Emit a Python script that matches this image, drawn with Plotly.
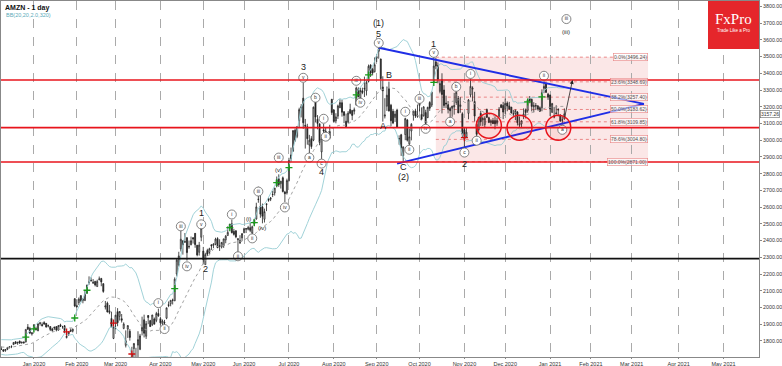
import pandas as pd
import plotly.graph_objects as go

# ---------------- data ----------------
holidays = ["2019-12-25", "2020-01-01", "2020-01-20", "2020-02-17", "2020-04-10", "2020-05-25",
            "2020-07-03", "2020-09-07", "2020-11-26", "2020-12-25", "2021-01-01"]

# Dec19 | Jan20 | Feb20 | Mar20 | Apr20 | May20 | Jun20 | Jul20 | Aug20 | Sep20 | Oct20 | Nov20 | Dec20 | Jan21
open_ = [1751,1747,1742,1750,1765,1767,1778,1795,1788,1799,1788,1794,1793,1883,1874,1842,
         1875,1865,1860,1905,1898,1910,1905,1891,1886,1872,1882,1886,1865,1896,1885,1891,1820,1841,1864,1858,2052,
         2011,2029,2071,2041,2041,2085,2151,2163,2145,2156,2125,2168,2173,2142,2003,2026,1970,1934,1815,
         1906,1975,1947,1933,1875,1774,1871,1858,1722,1755,1642,1775,1750,1860,1926,1828,1952,1921,1898,1931,1923,1964,
         1933,1902,1911,1936,2017,2022,2044,2040,2200,2254,2350,2399,2390,2417,2365,2375,2417,2443,2372,2330,2420,
         2337,2256,2340,2329,2375,2372,2378,2412,2367,2361,2369,2404,2430,2478,2500,2455,2458,2405,2384,2416,
         2448,2467,2468,2477,2445,2500,2529,2645,2604,2601,2527,2620,2648,2647,2677,2685,2726,2769,2740,2775,2690,2685,
         2758,2912,2935,3059,3023,3116,3192,3251,3089,3080,2971,3009,3000,3232,3125,3098,2930,3062,3054,3031,3014,3244,
         3181,3115,3144,3194,3224,3170,3113,3108,3183,3178,3173,3212,3303,3252,3295,3310,3295,3351,3450,3423,3409,
         3490,3547,3485,3318,3144,3203,3307,3209,3173,3136,3180,3009,3032,2907,3034,3120,2978,3055,3149,3175,3141,
         3208,3154,3146,3165,3135,3225,3210,3350,3468,3447,3292,3363,3300,3222,3213,3190,3191,3199,3225,3249,3201,3158,
         3062,3019,3160,3271,3305,3231,3095,3062,3160,3122,3093,3183,3134,3105,3117,3117,3101,3142,3211,3208,
         3189,3222,3205,3198,3156,3159,3168,3089,3097,3143,3181,3176,3250,3244,3200,3203,3205,3194,3194,3310,3341,3275,
         3270,3166,3146,3157,3180,3148,3120,3128]
high = [1767,1751,1751,1764,1769,1770,1792,1798,1792,1802,1793,1796,1869,1901,1884,1853,
        1898,1886,1904,1914,1911,1918,1907,1898,1887,1879,1886,1887,1894,1903,1890,1895,1841,1858,1875,1873,2056,
        2049,2060,2071,2056,2099,2136,2186,2180,2170,2159,2166,2185,2177,2145,2039,2035,2015,1975,1890,
        1955,1996,1978,1961,1911,1863,1894,1871,1765,1786,1759,1858,1842,1945,1957,1919,1955,1926,1956,1940,1974,1993,
        1945,1928,1926,1999,2036,2044,2053,2180,2292,2333,2461,2400,2445,2420,2400,2424,2420,2445,2374,2392,2475,
        2362,2327,2351,2357,2376,2382,2417,2420,2408,2391,2411,2433,2485,2500,2525,2470,2462,2414,2432,2442,
        2477,2474,2488,2508,2489,2530,2626,2722,2671,2621,2591,2620,2655,2660,2697,2715,2783,2796,2754,2783,2697,2770,
        2895,2956,3060,3070,3084,3194,3215,3344,3127,3098,3032,3024,3201,3241,3150,3098,3032,3098,3077,3039,3092,3247,
        3184,3161,3213,3245,3241,3173,3159,3174,3218,3178,3195,3320,3316,3313,3314,3380,3357,3452,3453,3433,3495,
        3514,3552,3488,3382,3251,3321,3350,3217,3187,3175,3188,3029,3038,2962,3134,3127,3069,3102,3175,3188,3213,
        3224,3196,3203,3182,3200,3233,3289,3496,3492,3465,3356,3400,3329,3266,3234,3199,3205,3283,3292,3264,3257,3167,
        3079,3075,3245,3367,3322,3289,3114,3139,3176,3142,3143,3189,3140,3125,3133,3140,3134,3198,3216,3229,
        3249,3232,3229,3198,3181,3184,3174,3142,3119,3190,3189,3247,3264,3249,3227,3222,3210,3202,3304,3351,3342,3283,
        3272,3223,3198,3209,3191,3156,3142,3190]
low = [1746,1735,1735,1745,1755,1757,1777,1782,1777,1782,1784,1784,1793,1866,1841,1832,
       1864,1865,1860,1892,1886,1896,1880,1881,1859,1855,1866,1857,1860,1883,1873,1847,1815,1830,1855,1851,2002,
       2000,2015,2032,2025,2041,2085,2136,2155,2142,2126,2124,2161,2127,2088,1988,1971,1960,1883,1811,
       1870,1888,1922,1910,1870,1761,1818,1802,1675,1681,1626,1689,1745,1833,1821,1812,1900,1889,1889,1900,1912,1944,
       1893,1890,1889,1930,2002,2007,2018,2038,2186,2245,2335,2316,2386,2280,2351,2372,2382,2357,2306,2310,2396,
       2258,2256,2307,2320,2344,2355,2372,2355,2338,2353,2356,2384,2429,2467,2443,2430,2414,2330,2383,2398,
       2443,2445,2461,2450,2437,2487,2525,2626,2536,2503,2508,2576,2632,2636,2660,2669,2718,2721,2711,2688,2630,2675,
       2754,2871,2930,2990,3012,3074,3136,3068,2950,2973,2918,2948,2994,3106,3065,2970,2888,3016,2996,2997,3005,3151,
       3104,3101,3127,3192,3141,3102,3073,3101,3155,3120,3154,3206,3256,3238,3275,3258,3267,3345,3378,3387,3405,
       3467,3487,3303,3111,3130,3175,3171,3084,3096,3109,3074,2973,2906,2871,3000,2992,2965,2999,3117,3133,3134,
       3172,3123,3141,3091,3132,3175,3198,3340,3424,3340,3280,3160,3193,3192,3160,3122,3140,3153,3211,3162,3164,3019,
       2951,3013,3125,3256,3232,3112,3019,3050,3086,3085,3073,3135,3105,3086,3098,3065,3086,3140,3191,3126,
       3157,3173,3181,3159,3142,3120,3088,3076,3073,3126,3130,3164,3221,3172,3166,3180,3184,3169,3173,3281,3282,3241,
       3144,3165,3131,3155,3142,3110,3086,3122]
close = [1750,1739,1749,1760,1761,1769,1791,1784,1792,1787,1793,1789,1869,1870,1847,1848,
         1898,1875,1903,1907,1892,1901,1883,1891,1869,1862,1878,1865,1892,1887,1885,1862,1828,1853,1858,1871,2009,
         2004,2050,2040,2050,2079,2134,2151,2160,2150,2135,2156,2170,2153,2096,2009,1973,1980,1884,1884,
         1954,1909,1976,1924,1901,1801,1892,1821,1677,1785,1689,1808,1830,1881,1846,1903,1940,1886,1955,1900,1964,1950,
         1908,1919,1907,1998,2012,2043,2043,2169,2283,2308,2408,2375,2394,2328,2363,2399,2410,2376,2314,2373,2474,
         2286,2316,2318,2351,2368,2380,2409,2357,2368,2389,2410,2426,2449,2498,2447,2437,2422,2410,2401,2442,
         2471,2472,2478,2461,2483,2524,2601,2647,2558,2545,2573,2615,2641,2654,2675,2714,2764,2734,2755,2693,2680,2759,
         2879,2890,3057,3000,3081,3183,3200,3104,3084,3009,3000,2962,3197,3138,3100,2987,3009,3055,3000,3034,3052,3165,
         3112,3139,3205,3225,3167,3148,3081,3162,3161,3148,3182,3312,3260,3297,3285,3307,3346,3442,3400,3402,3451,
         3499,3531,3368,3295,3150,3269,3175,3116,3103,3156,3078,3009,2955,2960,3129,3000,3020,3095,3174,3145,3149,
         3221,3125,3199,3100,3196,3191,3287,3443,3444,3364,3339,3273,3207,3217,3185,3176,3204,3207,3286,3163,3211,3036,
         3004,3048,3241,3322,3311,3144,3035,3137,3110,3129,3131,3136,3105,3117,3099,3098,3118,3185,3195,3168,
         3220,3204,3187,3163,3158,3177,3104,3101,3116,3157,3165,3241,3236,3202,3206,3207,3185,3173,3284,3322,3286,3257,
         3187,3219,3138,3162,3183,3114,3121,3157.26]
# closes before the first candle (feed the Bollinger bands only)
warmup_close = [1772,1778,1753,1755,1739,1753,1753,1746,1735,1746,1774,1797,1819,1801,1782,1770,1761,1740,1752]

month_labels = ["Jan 2020", "Feb 2020", "Mar 2020", "Apr 2020", "May 2020", "Jun 2020", "Jul 2020",
                "Aug 2020", "Sep 2020", "Oct 2020", "Nov 2020", "Dec 2020", "Jan 2021", "Feb 2021",
                "Mar 2021", "Apr 2021", "May 2021"]
y_ticks = list(range(1800, 3801, 100))

hlines_red = [3360, 3075, 2870]
hline_black = [2292]

fib_pct = ["0.0%", "23.6%", "38.2%", "50.0%", "61.8%", "78.6%", "100.0%"]
fib_val = [3496.24, 3348.69, 3257.40, 3183.62, 3109.85, 3004.80, 2871.00]
fib_span = ["2020-10-13", "2021-03-11"]

tri_upper_dates = ["2020-09-02", "2021-03-09"]
tri_upper_vals = [3552, 3217]
tri_lower_dates = ["2020-09-16", "2021-03-09"]
tri_lower_vals = [2860, 3217]

circle_dates = ["2020-11-18", "2020-12-10", "2021-01-08"]
circle_vals = [3087, 3075, 3075]

arrow_from = ("2021-01-13", 3128)
arrow_to = ("2021-01-19", 3360)

big_text = ["(1)", "5", "3", "4", "1", "2", "B", "A", "C", "(2)", "1", "2"]
big_dates = ["2020-09-02", "2020-09-02", "2020-07-13", "2020-07-24", "2020-04-30", "2020-05-04",
             "2020-09-10", "2020-09-04", "2020-09-21", "2020-09-21", "2020-10-12", "2020-11-02"]
big_vals = [3700, 3635, 3438, 2807, 2564, 2229, 3391, 3086, 2842, 2777, 3575, 2860]

small_text = ["(i)", "(iv)", "(v)", "(iii)"]
small_dates = ["2020-06-03", "2020-06-12", "2020-06-24", "2021-01-14"]
small_vals = [2526, 2473, 2824, 3647]

circ_text = ["v", "v", "v", "v", "c", "a", "b", "i", "ii", "iii", "iv", "i", "ii", "iii", "iv",
             "a", "b", "c", "i", "ii", "ii", "a", "iii", "iv", "i", "ii", "ii", "iii", "iii", "iv",
             "i", "ii", "iii"]
circ_dates = ["2020-09-02", "2020-07-13", "2020-10-12", "2020-04-30", "2020-07-24", "2020-07-16",
              "2020-07-21", "2020-07-27", "2020-07-28", "2020-08-18", "2020-08-20", "2020-09-22",
              "2020-09-24", "2020-10-01", "2020-10-06", "2020-10-22", "2020-10-27", "2020-11-02",
              "2020-11-05", "2020-11-10", "2020-12-29", "2021-01-12", "2020-04-16", "2020-04-21",
              "2020-05-21", "2020-05-27", "2020-06-05", "2020-06-10", "2020-06-24", "2020-06-29",
              "2020-03-31", "2020-04-03", "2021-01-14"]
circ_vals = [3581, 3373, 3522, 2497, 2860, 2896, 3254, 3128, 3021, 3355, 3224, 3170, 2943, 3247,
             3068, 3110, 3319, 2926, 3396, 2997, 3385, 3062, 2485, 2246, 2556, 2306, 2413, 2693,
             2896, 2598, 2026, 1871, 3724]

green_dates = ["2019-12-26", "2020-01-02", "2020-01-31", "2020-02-10", "2020-04-13", "2020-05-20",
               "2020-06-08", "2020-06-23", "2020-07-01", "2020-08-18", "2020-08-26", "2020-10-12",
               "2020-12-16", "2020-12-28"]
green_vals = [1823, 1872, 1937, 2103, 2113, 2477, 2507, 2746, 2836, 3271, 3390, 3345, 3229, 3259]
red_dates = ["2020-01-27", "2020-02-28", "2020-03-12", "2020-11-02"]
red_vals = [1854, 1907, 1722, 3015]

# ---------------- axis helpers ----------------
days = [d for d in pd.bdate_range("2019-12-09", "2021-01-13") if d.strftime("%Y-%m-%d") not in holidays]
future = list(pd.bdate_range("2021-01-14", "2021-06-30"))
all_days = list(days) + future
pos = {d.strftime("%Y-%m-%d"): i for i, d in enumerate(all_days)}
assert len(days) == len(close) == len(open_) == len(high) == len(low)


def X(d):
    return pos[d]


tick_vals = []
for lab in month_labels:
    m = pd.Timestamp(lab)
    for i, d in enumerate(all_days):
        if d.year == m.year and d.month == m.month:
            tick_vals.append(i)
            break

s = pd.Series(warmup_close + close, dtype=float)
mid = s.rolling(20).mean()
sd = s.rolling(20).std(ddof=0)
n0 = len(warmup_close)
bb_mid = mid.iloc[n0:].tolist()
bb_up = (mid + 2 * sd).iloc[n0:].tolist()
bb_lo = (mid - 2 * sd).iloc[n0:].tolist()
xi = list(range(len(close)))

# plot-area geometry in pixels (for the paper-anchored logo)
W, H = 782, 366
ML, MR, MT, MB = 1, 23, 1, 9
PW, PH = W - ML - MR, H - MT - MB


def px(xp):
    return (xp - ML) / PW


def py(yp):
    return 1 - (yp - MT) / PH


fig = go.Figure()
BB_COL = "rgb(150,205,212)"
fig.add_trace(go.Scatter(x=xi, y=bb_up, mode="lines", line=dict(color=BB_COL, width=0.9), hoverinfo="skip"))
fig.add_trace(go.Scatter(x=xi, y=bb_lo, mode="lines", line=dict(color=BB_COL, width=0.9), hoverinfo="skip"))
fig.add_trace(go.Scatter(x=xi, y=bb_mid, mode="lines", line=dict(color="#9a9a9a", width=0.9, dash="dot"), hoverinfo="skip"))

# Fib box
fx0, fx1 = X(fib_span[0]), X(fib_span[1])
fig.add_shape(type="rect", xref="x", yref="y", x0=fx0, x1=fx1, y0=fib_val[-1], y1=fib_val[0],
              fillcolor="rgba(235,120,120,0.18)", line=dict(width=0), layer="below")
for p, v in zip(fib_pct, fib_val):
    fig.add_shape(type="line", xref="x", yref="y", x0=fx0, x1=fx1, y0=v, y1=v,
                  line=dict(color="rgba(230,110,110,0.8)", width=1, dash="dot"), layer="below")
    fig.add_annotation(x=fx1, y=v, xref="x", yref="y", text=f"{p}({v:.2f})", showarrow=False,
                       xanchor="right", yanchor="middle", font=dict(size=5, color="#555", family="Liberation Sans"),
                       bgcolor="rgba(255,255,255,0.6)", bordercolor="rgba(230,120,120,0.9)", borderwidth=0.6, borderpad=0.5)

for v in hlines_red:
    fig.add_shape(type="line", xref="paper", yref="y", x0=0, x1=1, y0=v, y1=v,
                  line=dict(color="#e8141c", width=1.6))
for v in hline_black:
    fig.add_shape(type="line", xref="paper", yref="y", x0=0, x1=1, y0=v, y1=v,
                  line=dict(color="#111", width=1.6))

fig.add_trace(go.Candlestick(x=xi, open=open_, high=high, low=low, close=close,
                             increasing=dict(line=dict(color="#222", width=0.8), fillcolor="white"),
                             decreasing=dict(line=dict(color="#222", width=0.8), fillcolor="#222"),
                             whiskerwidth=0, hoverinfo="skip"))

# triangle lines
fig.add_trace(go.Scatter(x=[X(d) for d in tri_upper_dates], y=tri_upper_vals, mode="lines",
                         line=dict(color="#1f2ee6", width=2), hoverinfo="skip"))
fig.add_trace(go.Scatter(x=[X(d) for d in tri_lower_dates], y=tri_lower_vals, mode="lines",
                         line=dict(color="#1f2ee6", width=2), hoverinfo="skip"))

# red circles
fig.add_trace(go.Scatter(x=[X(d) for d in circle_dates], y=circle_vals, mode="markers",
                         marker=dict(symbol="circle", size=25, color="rgba(255,0,0,0.06)",
                                     line=dict(color="#e8141c", width=1.5)), hoverinfo="skip"))

# plus markers
fig.add_trace(go.Scatter(x=[X(d) for d in green_dates], y=green_vals, mode="markers",
                         marker=dict(symbol="cross-thin", size=5, line=dict(color="#1a9a1a", width=1.3)),
                         hoverinfo="skip"))
fig.add_trace(go.Scatter(x=[X(d) for d in red_dates], y=red_vals, mode="markers",
                         marker=dict(symbol="cross-thin", size=5, line=dict(color="#d01010", width=1.3)),
                         hoverinfo="skip"))

# circled wave labels
fig.add_trace(go.Scatter(x=[X(d) for d in circ_dates], y=circ_vals, mode="markers+text", text=circ_text,
                         textposition="middle center",
                         textfont=dict(size=5, color="#333", family="Liberation Sans"),
                         marker=dict(symbol="circle", size=9, color="white", line=dict(color="#666", width=0.8)),
                         hoverinfo="skip"))

for t, d, v in zip(big_text, big_dates, big_vals):
    fig.add_annotation(x=X(d), y=v, text=t, showarrow=False, xanchor="center", yanchor="middle",
                       font=dict(size=9, color="#222", family="Liberation Sans"))
for t, d, v in zip(small_text, small_dates, small_vals):
    fig.add_annotation(x=X(d), y=v, text=t, showarrow=False, xanchor="center", yanchor="middle",
                       font=dict(size=6, color="#222", family="Liberation Sans"))

fig.add_annotation(x=X(arrow_to[0]), y=arrow_to[1], ax=X(arrow_from[0]), ay=arrow_from[1],
                   xref="x", yref="y", axref="x", ayref="y", text="", showarrow=True,
                   arrowhead=2, arrowsize=1, arrowwidth=0.8, arrowcolor="#222")

# current price box
fig.add_annotation(x=1, y=close[-1], xref="paper", yref="y", text=f"{close[-1]:.2f}", showarrow=False,
                   xanchor="left", yanchor="middle", xshift=1,
                   font=dict(size=5, color="#333", family="Liberation Sans"),
                   bgcolor="white", bordercolor="#666", borderwidth=0.6, borderpad=0.3)

# title
fig.add_annotation(x=0, y=1, xref="paper", yref="paper", text="<b>AMZN - 1 day</b>", showarrow=False,
                   xanchor="left", yanchor="top", xshift=2, yshift=-1,
                   font=dict(size=7, color="#111", family="Liberation Sans"))
fig.add_annotation(x=0, y=1, xref="paper", yref="paper", text="BB(20,20,2.0,320)", showarrow=False,
                   xanchor="left", yanchor="top", xshift=3, yshift=-9,
                   font=dict(size=5.5, color="rgb(90,170,185)", family="Liberation Sans"))

# FxPro logo
fig.add_shape(type="rect", xref="paper", yref="paper", x0=px(708), x1=1, y0=py(49), y1=1,
              fillcolor="#e5262b", line=dict(width=0))
fig.add_annotation(x=px(733.5), y=py(19), xref="paper", yref="paper", text="FxPro",
                   showarrow=False, xanchor="center", yanchor="middle",
                   font=dict(size=15, color="white", family="Liberation Serif"))
fig.add_annotation(x=px(733.5), y=py(31), xref="paper", yref="paper", text="Trade Like a Pro",
                   showarrow=False, xanchor="center", yanchor="middle",
                   font=dict(size=4.5, color="white", family="Liberation Sans"))

fig.update_layout(
    width=W, height=H, margin=dict(l=ML, r=MR, t=MT, b=MB, autoexpand=False),
    paper_bgcolor="white", plot_bgcolor="white", showlegend=False,
    xaxis=dict(range=[-0.15, 371.4], tickvals=tick_vals, ticktext=month_labels, showgrid=True,
               gridcolor="#aaa", griddash="dash", gridwidth=0.8, ticks="outside", ticklen=1,
               tickcolor="#888", showline=True, linecolor="#888", mirror=True, automargin=False,
               tickfont=dict(size=5.5, color="#333", family="Liberation Sans"),
               rangeslider=dict(visible=False), zeroline=False, fixedrange=True),
    yaxis=dict(range=[1704, 3832], side="right", tickvals=y_ticks, tickformat=".2f", showgrid=False,
               ticks="outside", ticklen=2, tickcolor="#888", showline=True, linecolor="#888", mirror=True,
               automargin=False,
               tickfont=dict(size=5.3, color="#333", family="Liberation Sans"), zeroline=False, fixedrange=True),
)

fig.write_html("out.html", config={"displayModeBar": False},
               post_script="document.body.style.margin='0px';document.body.style.overflow='hidden';")
